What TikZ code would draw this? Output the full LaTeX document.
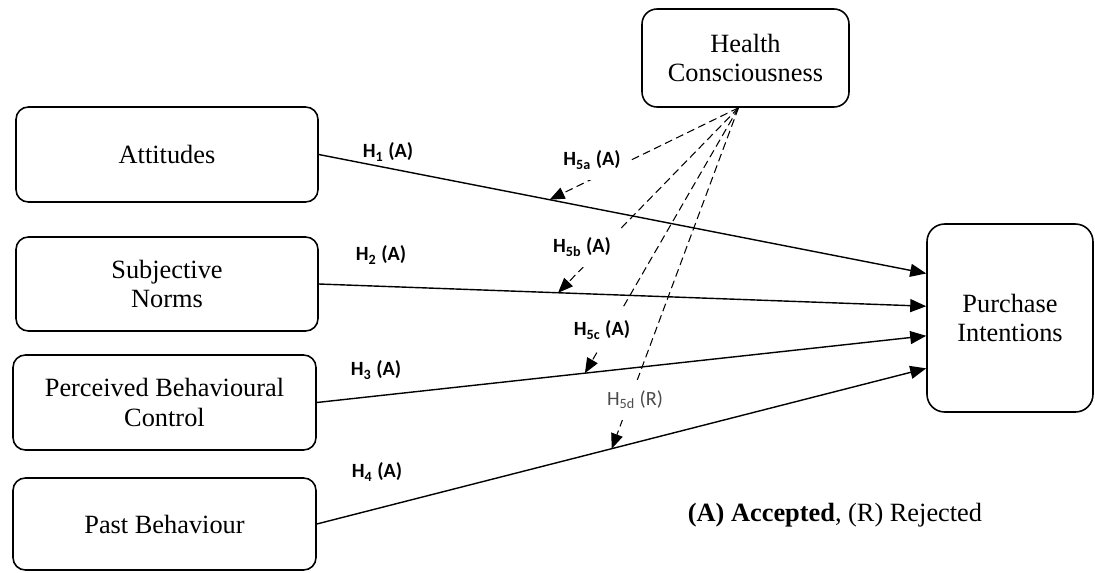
\documentclass[tikz,border=0pt]{standalone}
\usepackage{fontspec}
\setmainfont{Liberation Serif}
\newfontfamily\hypfont{Carlito}
\usetikzlibrary{arrows.meta}

\begin{document}
\begin{tikzpicture}[x=0.02cm, y=-0.02cm,
        box/.style={draw, line width=0.9pt, rounded corners=7pt, align=center, inner sep=0pt,
                    font=\fontsize{15}{17}\selectfont},
        path/.style={line width=0.8pt, -{Triangle[length=0.32cm, width=0.26cm]}},
        modpath/.style={line width=0.6pt, dash pattern=on 4.5pt off 2.5pt,
                        -{Triangle[length=0.3cm, width=0.24cm]}},
        hyp/.style={inner sep=1pt, font=\hypfont\bfseries\fontsize{11.5}{13}\selectfont},
        modhyp/.style={hyp, fill=white, inner xsep=6pt, inner ysep=6pt}]
            \useasboundingbox (0,0) rectangle (1095,572);
            \draw (167,154.5) node[box, minimum width=6.04cm, minimum height=1.9cm] (att) {Attitudes};
            \draw (167,284)   node[box, minimum width=6.04cm, minimum height=1.88cm] (sn) {Subjective\\Norms};
            \draw (164.5,402.5) node[box, minimum width=6.06cm, minimum height=1.9cm] (pbc) {Perceived Behavioural\\Control};
            \draw (164.5,524) node[box, minimum width=6.06cm, minimum height=1.84cm] (pb) {Past Behaviour};
            \draw (745.5,58)  node[box, minimum width=4.14cm, minimum height=1.96cm, rounded corners=8.5pt] (hc) {Health\\Consciousness};
            \draw (1010,318)  node[box, minimum width=3.32cm, minimum height=3.76cm, rounded corners=10pt] (pi) {Purchase\\Intentions};
            \draw[path] (att.east) -- (pi.152) coordinate[pos=0.38] (m1);
            \draw[path] (sn.east)  -- (pi.172) coordinate[pos=0.394] (m2);
            \draw[path] (pbc.east) -- (pi.192) coordinate[pos=0.44] (m3);
            \draw[path] (pb.east)  -- (pi.211) coordinate[pos=0.484] (m4);
            \draw[modpath] (hc.262) -- (m1);
            \draw[modpath] (hc.262) -- (m2);
            \draw[modpath] (hc.262) -- (m3);
            \draw[modpath] (hc.262) -- (m4);
            \node[hyp] at (388,152) {H\textsubscript{1} (A)};
            \node[hyp] at (381,255) {H\textsubscript{2} (A)};
            \node[hyp] at (376,370) {H\textsubscript{3} (A)};
            \node[hyp] at (377,472) {H\textsubscript{4} (A)};
            \node[modhyp] at (592,160) {H\textsubscript{5a} (A)};
            \node[modhyp] at (582,247) {H\textsubscript{5b} (A)};
            \node[modhyp] at (602,330) {H\textsubscript{5c} (A)};
            \node[modhyp, font=\hypfont\fontsize{11.5}{13}\selectfont, text=black!70] at (635,400) {H\textsubscript{5d} (R)};
            \node[font=\fontsize{15}{17}\selectfont] at (835,515) {\textbf{(A) Accepted}, (R) Rejected};
        \end{tikzpicture}
\end{document}
